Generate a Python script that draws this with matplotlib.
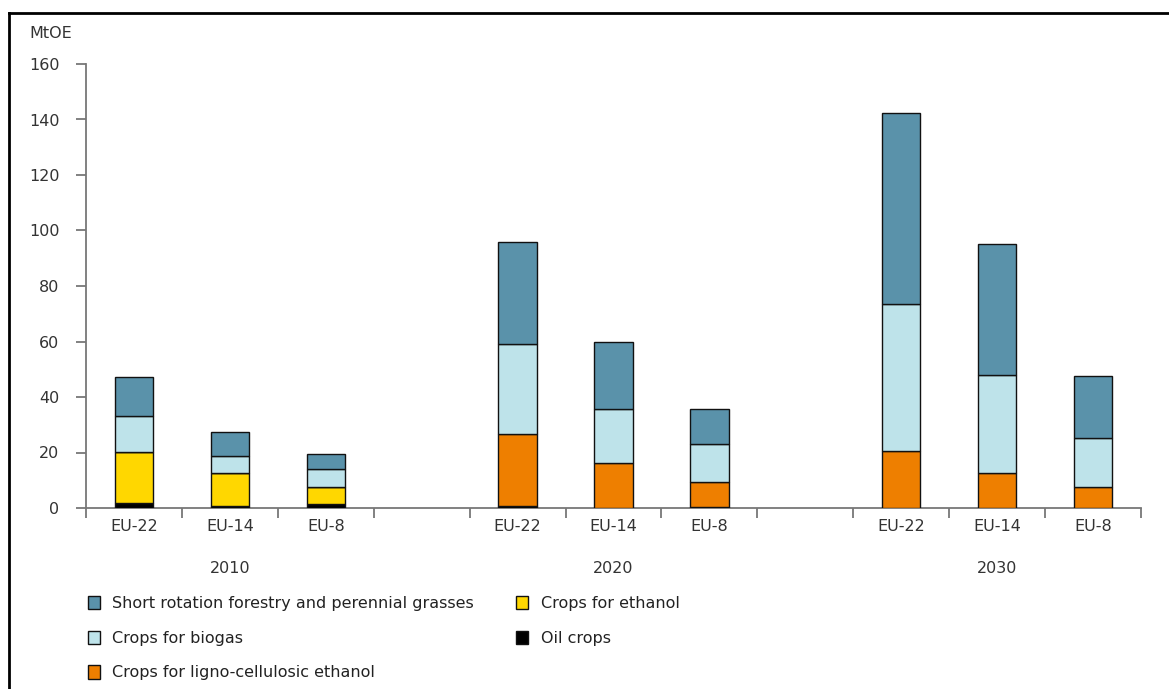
import numpy as np
import matplotlib
matplotlib.use("Agg")
import matplotlib.pyplot as plt
from matplotlib.patches import Patch
from matplotlib.lines import Line2D

FS = 11.5
plt.rcParams.update({"font.family": "DejaVu Sans", "font.size": FS})

# categories (slot positions 0..10, slots 3 and 7 are empty gaps)
regions = ["EU-22", "EU-14", "EU-8"]
years = ["2010", "2020", "2030"]

# stacked segments in MtOE, order of bars: 2010 EU-22/14/8, 2020 ..., 2030 ...
oil_crops = [1.9, 0.7, 1.4, 0.6, 0.0, 0.5, 0.0, 0.0, 0.0]
crops_ethanol = [18.3, 11.8, 6.0, 0.0, 0.0, 0.0, 0.0, 0.0, 0.0]
crops_ligno = [0.0, 0.0, 0.0, 26.1, 16.1, 9.0, 20.7, 12.6, 7.4]
crops_biogas = [12.8, 6.2, 6.7, 32.4, 19.6, 13.6, 52.8, 35.3, 17.8]
short_rotation = [14.2, 8.8, 5.4, 36.8, 24.1, 12.6, 68.8, 47.2, 22.4]

labels = ["Short rotation forestry and perennial grasses", "Crops for biogas",
          "Crops for ligno-cellulosic ethanol", "Crops for ethanol", "Oil crops"]

C_SRF = "#5A92AA"
C_BIO = "#BEE3EA"
C_LIG = "#EE7F00"
C_ETH = "#FFD700"
C_OIL = "#000000"

W, H = 1169, 689
fig = plt.figure(figsize=(W / 100, H / 100), dpi=100)
ax = fig.add_axes([86 / W, 1 - 508 / H, (1141 - 86) / W, (508 - 64) / H])

slots = np.array([0, 1, 2, 4, 5, 6, 8, 9, 10]) + 0.5
bw = 0.4
bottom = np.zeros(len(slots))
for vals, col in [(oil_crops, C_OIL), (crops_ethanol, C_ETH), (crops_ligno, C_LIG),
                  (crops_biogas, C_BIO), (short_rotation, C_SRF)]:
    v = np.array(vals)
    ax.bar(slots, v, bw, bottom=bottom, color=col, edgecolor="#111111",
           linewidth=1.0, zorder=3)
    bottom += v

ax.set_xlim(0, 11)
ax.set_ylim(0, 160)
ax.set_yticks(np.arange(0, 161, 20))
ax.set_xticks(np.arange(0, 12))
ax.set_xticklabels([])
ax.set_xticks(slots, minor=True)
ax.set_xticklabels(regions * 3, minor=True)

for s in ["top", "right"]:
    ax.spines[s].set_visible(False)
for s in ["left", "bottom"]:
    ax.spines[s].set_color("#777777")
    ax.spines[s].set_linewidth(1.3)
ax.tick_params(axis="y", direction="out", length=7, width=1.3, color="#777777",
               pad=12, labelcolor="#333333", labelsize=FS)
ax.tick_params(axis="x", which="major", direction="out", length=7, width=1.3,
               color="#777777")
ax.tick_params(axis="x", which="minor", length=0, pad=8, labelcolor="#333333",
               labelsize=FS)

for i, yr in enumerate(years):
    ax.text(slots[i * 3 + 1], -0.137, yr, transform=ax.get_xaxis_transform(),
            ha="center", va="center", color="#333333", fontsize=FS)

fig.text(29 / W, 1 - 34 / H, "MtOE", ha="left", va="center", color="#333333",
         fontsize=FS)

handles = [Patch(facecolor=c, edgecolor="#111111", linewidth=1.0)
           for c in [C_SRF, C_BIO, C_LIG, C_ETH, C_OIL]]
fig.legend(handles, labels, loc="upper left", bbox_to_anchor=(88 / W, 1 - 596 / H),
           ncol=2, frameon=False, borderpad=0, borderaxespad=0,
           handlelength=0.72, handleheight=0.9, handletextpad=0.8,
           labelspacing=1.22, columnspacing=2.65, fontsize=FS,
           labelcolor="#222222")

# frame on top and left edges
fig.add_artist(Line2D([9 / W, 9 / W], [0, 1 - 13 / H], color="black", lw=2,
                      transform=fig.transFigure))
fig.add_artist(Line2D([9 / W, 1], [1 - 13 / H, 1 - 13 / H], color="black", lw=2,
                      transform=fig.transFigure))

fig.savefig("out.png", dpi=100)
